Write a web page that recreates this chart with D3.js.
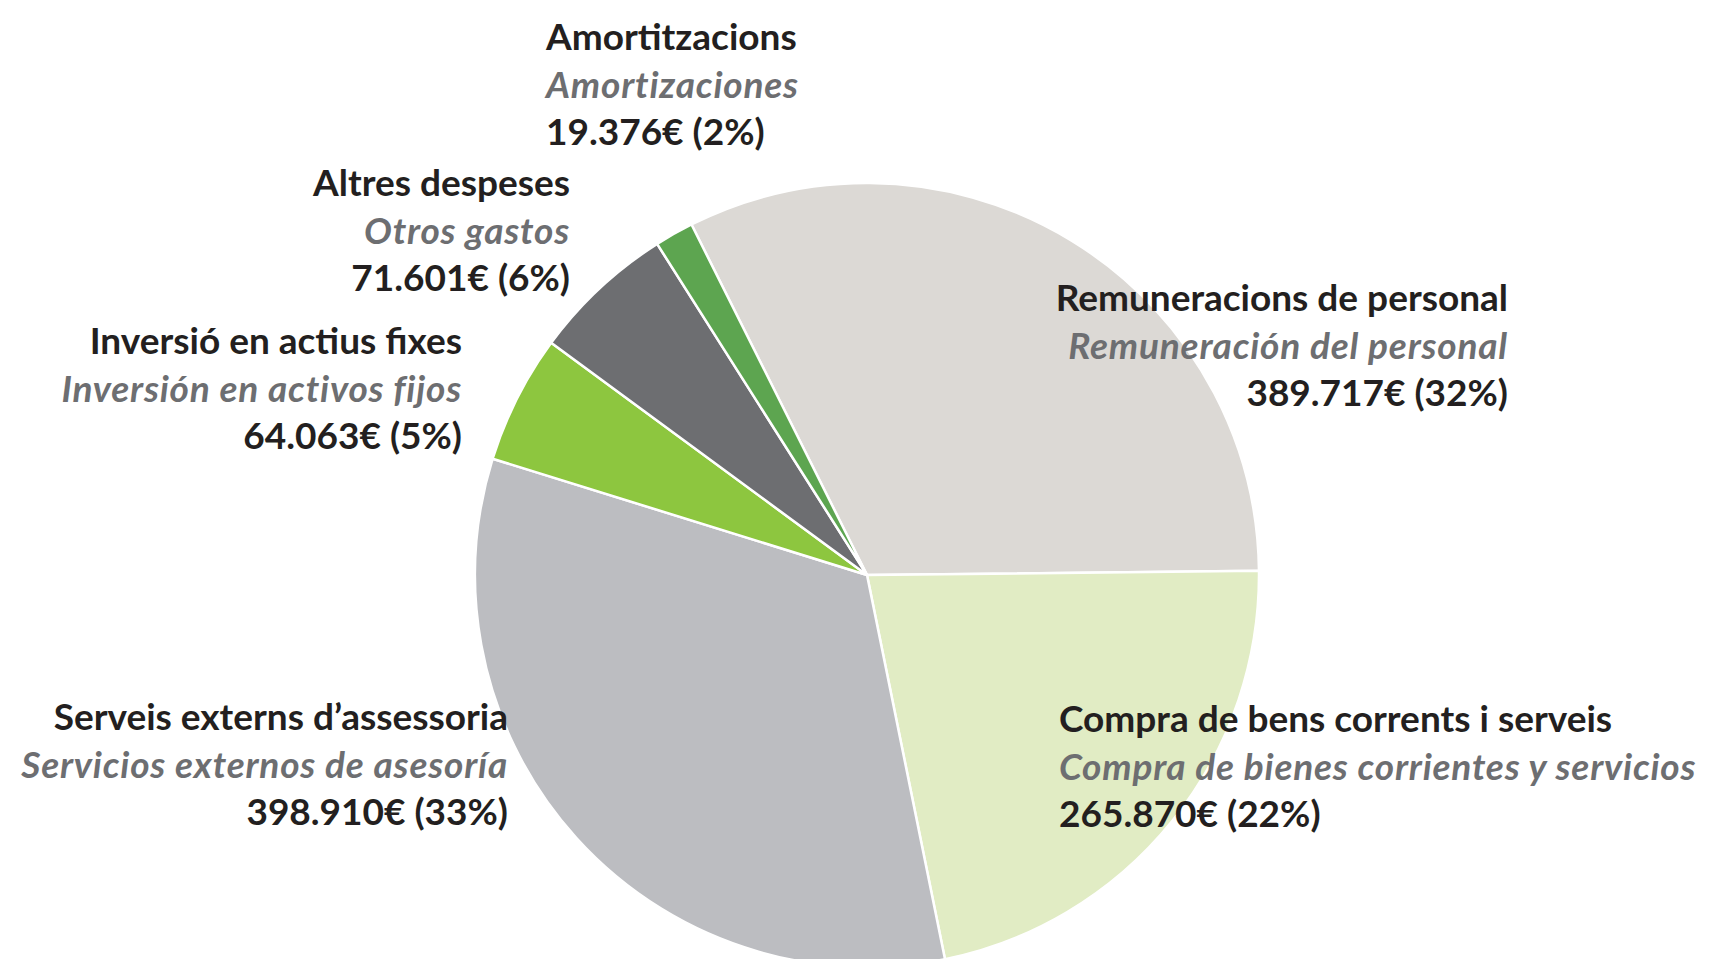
<!DOCTYPE html>
<html>
<head>
<meta charset="utf-8">
<script src="https://cdn.jsdelivr.net/npm/d3@7"></script>
<style>
  html, body { margin: 0; padding: 0; background: #ffffff; }
  svg { display: block; }
  text { font-family: Lato, "Open Sans", sans-serif; font-weight: 700; }
</style>
</head>
<body>
<svg id="chart" width="1716" height="959"></svg>
<script>
// ---- data ----
const categoriesCa = [
  "Remuneracions de personal",
  "Compra de bens corrents i serveis",
  "Serveis externs d\u2019assessoria",
  "Inversi\u00f3 en actius fixes",
  "Altres despeses",
  "Amortitzacions"
];
const categoriesEs = [
  "Remuneraci\u00f3n del personal",
  "Compra de bienes corrientes y servicios",
  "Servicios externos de asesor\u00eda",
  "Inversi\u00f3n en activos fijos",
  "Otros gastos",
  "Amortizaciones"
];
const values = [389717, 265870, 398910, 64063, 71601, 19376];

// ---- styles / layout ----
const colors = ["#dcd9d5", "#e1ecc4", "#bcbdc1", "#8dc63f", "#6d6e71", "#5da550"];
const labelLayout = [
  { x: 1508, y: 311, anchor: "end" },
  { x: 1059, y: 732, anchor: "start" },
  { x: 508,  y: 730, anchor: "end" },
  { x: 462,  y: 354, anchor: "end" },
  { x: 570,  y: 196, anchor: "end" },
  { x: 546,  y: 50,  anchor: "start" }
];
const lineGap = 47.5;
const fontSize = 37;

const svg = d3.select("#chart");
const cx = 867, cy = 575, radius = 392;
const startDeg = -26.6;

const total = d3.sum(values);
const locale = d3.formatLocale({ decimal: ",", thousands: ".", grouping: [3], currency: ["", "\u20ac"] });
const fmt = locale.format(",");

const data = values.map((v, i) => ({ ca: categoriesCa[i], es: categoriesEs[i], value: v, color: colors[i], i }));

const pie = d3.pie()
  .sort(null)
  .value(d => d.value)
  .startAngle(startDeg * Math.PI / 180)
  .endAngle(startDeg * Math.PI / 180 + 2 * Math.PI);

const arc = d3.arc().innerRadius(0).outerRadius(radius);

const g = svg.append("g").attr("transform", `translate(${cx},${cy})`);
g.selectAll("path")
  .data(pie(data))
  .join("path")
  .attr("d", arc)
  .attr("fill", d => d.data.color)
  .attr("stroke", "#ffffff")
  .attr("stroke-width", 2.5)
  .attr("stroke-linejoin", "round");

const labels = svg.append("g");
data.forEach((d, i) => {
  const L = labelLayout[i];
  const mk = () => labels.append("text")
    .attr("x", L.x)
    .attr("text-anchor", L.anchor)
    .style("font-size", fontSize + "px");
  mk().attr("y", L.y).attr("fill", "#231f20").text(d.ca);
  mk().attr("y", L.y + lineGap).attr("fill", "#6d6e71")
    .style("font-style", "italic").style("letter-spacing", "0.8px").text(d.es);
  mk().attr("y", L.y + 2 * lineGap).attr("fill", "#231f20")
    .text(fmt(d.value) + "\u20ac (" + Math.round(d.value / total * 100) + "%)");
});
</script>
</body>
</html>
